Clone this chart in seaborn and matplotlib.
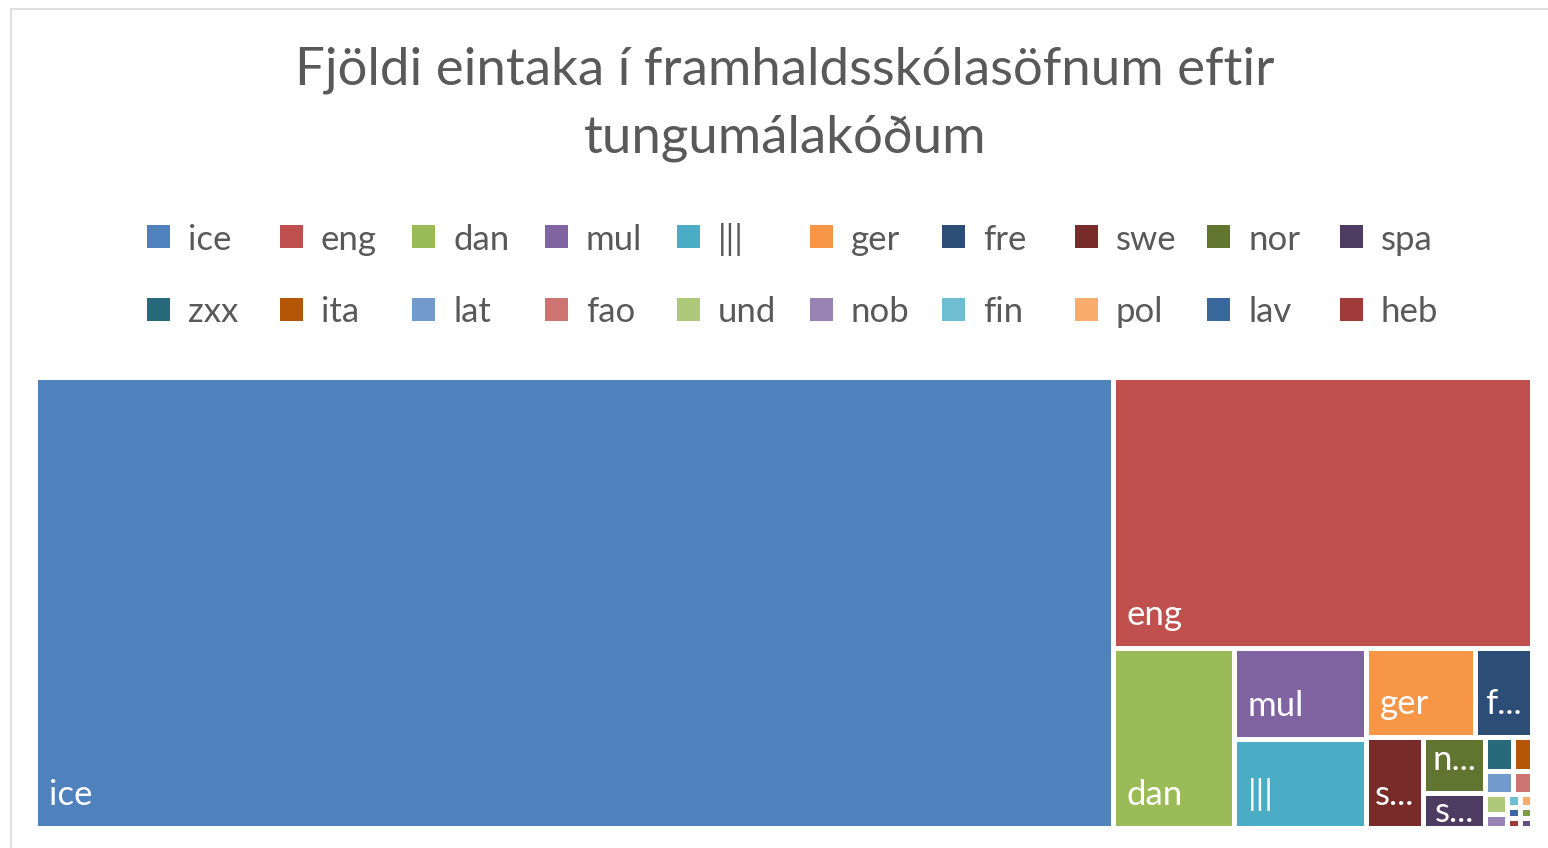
import matplotlib
matplotlib.use("Agg")
import matplotlib.pyplot as plt
import seaborn as sns
from matplotlib.patches import Rectangle

# eintök eftir tungumálakóða, lesið af myndinni (áætlað út frá flatarmáli)
kodar = ["ice", "eng", "dan", "mul", "|||", "ger", "fre", "swe", "nor", "spa",
         "zxx", "ita", "lat", "fao", "und", "nob", "fin", "pol", "lav", "heb",
         "rus", "chi"]
eintok = [485700, 113400, 21700, 12150, 11750, 9680, 5110, 5100, 3480, 2200,
          930, 650, 645, 440, 430, 300, 160, 150, 140, 135,
          130, 125]
litir = ["#4F81BD", "#C0504D", "#9BBB59", "#8064A2", "#4BACC6", "#F79646",
         "#2C4D75", "#772C2A", "#5F7530", "#4D3B62", "#276A7C", "#B65708",
         "#729ACA", "#CD7371", "#AFC97A", "#9983B5", "#6FBDD1", "#F9AB6B",
         "#3A679C", "#9F3B38", "#7E9C40", "#664F83"]
titill = "Fjöldi eintaka í framhaldsskólasöfnum eftir\ntungumálakóðum"
fjoldi_i_skyringu = 20

sns.set_theme(style="white")
plt.rcParams['font.family'] = ['Lato', 'DejaVu Sans']
GRATT = "#595959"


def leggja_rod(st, x, y, dx, dy):
    s = sum(st)
    out = []
    if dx >= dy:
        w = s / dy
        yy = y
        for v in st:
            out.append((x, yy, w, v / w))
            yy += v / w
    else:
        h = s / dx
        xx = x
        for v in st:
            out.append((xx, y, v / h, h))
            xx += v / h
    return out


def hlutfall(st, x, y, dx, dy):
    return max(max(w / h, h / w) for _, _, w, h in leggja_rod(st, x, y, dx, dy))


def afgangur(st, x, y, dx, dy):
    s = sum(st)
    if dx >= dy:
        w = s / dy
        return x + w, y, dx - w, dy
    h = s / dx
    return x, y + h, dx, dy - h


def squarify(st, x, y, dx, dy):
    if not st:
        return []
    if len(st) == 1:
        return leggja_rod(st, x, y, dx, dy)
    i = 1
    while i < len(st) and hlutfall(st[:i], x, y, dx, dy) >= hlutfall(st[:i + 1], x, y, dx, dy):
        i += 1
    return leggja_rod(st[:i], x, y, dx, dy) + squarify(st[i:], *afgangur(st[:i], x, y, dx, dy))


fig = plt.figure(figsize=(15.48, 8.48), dpi=100)
W, H, g = 1492, 446, 5
ax = fig.add_axes([38 / 1548, 22 / 848, W / 1548, H / 848])
ax.set_xlim(g / 2, W + g / 2)
ax.set_ylim(H + g / 2, g / 2)
ax.axis('off')

heild = sum(eintok)
staerdir = [v * (W + g) * (H + g) / heild for v in eintok]
reitir = squarify(staerdir, 0, 0, W + g, H + g)

fig.canvas.draw()
renderer = fig.canvas.get_renderer()
for kodi, litur, (x, y, w, h) in zip(kodar, litir, reitir):
    if w <= g or h <= g:
        continue
    x0, y0, w0, h0 = x + g / 2, y + g / 2, w - g, h - g
    ax.add_patch(Rectangle((x0, y0), w0, h0, facecolor=litur, edgecolor='none'))
    if h0 < 28:
        continue
    grunnlina = max(y0 + 26, y0 + h0 - 21)
    t = ax.text(x0 + 11, grunnlina, kodi, color='white', fontsize=25, va='baseline', ha='left')
    breidd = t.get_window_extent(renderer).width
    if breidd > w0 - 20:
        t.set_text(kodi[0] + "...")
        breidd = t.get_window_extent(renderer).width
        if breidd > w0 - 6:
            t.remove()
        else:
            t.set_x(x0 + min(10, (w0 - breidd) / 2))

# skýringar
for i in range(fjoldi_i_skyringu):
    dalkur, lina = i % 10, i // 10
    xm = 147 + dalkur * 132.55
    ym = 236.5 + lina * 72.5
    fig.add_artist(Rectangle((xm / 1548, 1 - (ym + 11.5) / 848), 23 / 1548, 23 / 848,
                             facecolor=litir[i], edgecolor='none', transform=fig.transFigure))
    fig.text((xm + 41) / 1548, 1 - (ym + 13.5) / 848, kodar[i], color=GRATT,
             fontsize=25, va='baseline', ha='left')

fig.text(785 / 1548, 1 - 104 / 848, titill, color=GRATT, fontsize=38,
         ha='center', va='center', linespacing=1.55)

fig.add_artist(Rectangle((10.5 / 1548, -0.01), 1.1, (848 - 8.5) / 848 + 0.01, fill=False,
                         edgecolor="#D9D9D9", linewidth=1.2, transform=fig.transFigure))

fig.savefig("out.png", dpi=100)
